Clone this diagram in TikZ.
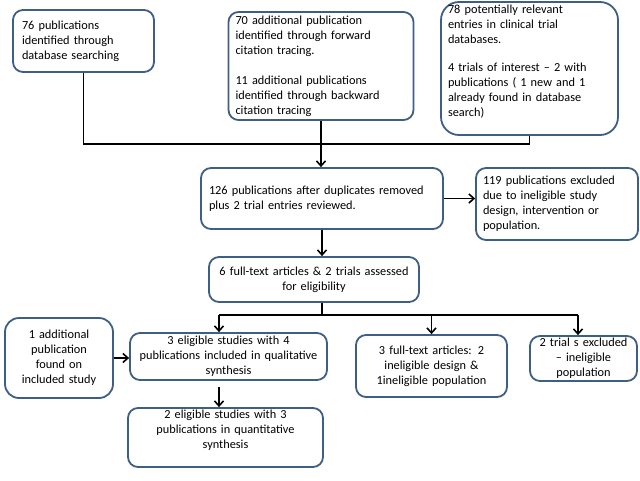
\documentclass[tikz,border=0pt]{standalone}
\usepackage{fontspec}
\setmainfont{Carlito}
\usetikzlibrary{arrows.meta,calc}
\definecolor{boxblue}{RGB}{62,95,133}
\tikzset{
  box/.style={draw=boxblue, line width=1.8pt, rounded corners=10pt, fill=white,
    inner sep=0pt, font=\fontsize{12.3}{15}\selectfont},
  leftbox/.style={box, align=left},
  midbox/.style={box, align=center},
  conn/.style={draw=black, line width=1.6pt},
  arr/.style={conn, -{Straight Barb[length=5pt,width=9pt,line width=1.6pt]}},
}
\begin{document}
\begin{tikzpicture}[x=1pt,y=-1pt]
\useasboundingbox (0,0) rectangle (640,480);
% boxes
\node[leftbox, minimum width=141, minimum height=62, text width=123] (A) at (83.5,41)
  {76 publications\\identified through\\database searching};
\node[leftbox, minimum width=185, minimum height=108, text width=171] (B) at (321,66)
  {70 additional publication\\identified through forward\\citation tracing.\\[15pt]11 additional publications\\identified through backward\\citation tracing};
\node[leftbox, rounded corners=18pt, minimum width=177, minimum height=133, text width=163] (C) at (529.5,68.5)
  {78 potentially relevant\\entries in clinical trial\\databases.\\[13pt]4 trials of interest -- 2 with\\publications ( 1 new and 1\\already found in database\\search)\\[1pt]\mbox{}};
\node[leftbox, minimum width=242, minimum height=61, text width=226] (D) at (322,198.5)
  {126 publications after duplicates removed\\plus 2 trial entries reviewed.};
\node[leftbox, minimum width=162, minimum height=72, text width=148] (E) at (557,204)
  {119 publications excluded\\due to ineligible  study\\design, intervention or\\population.};
\node[midbox, minimum width=210, minimum height=45, text width=200] (F) at (314,279.5)
  {6 full-text articles \& 2 trials assessed\\for eligibility};
\node[midbox, minimum width=197, minimum height=47, text width=190] (G) at (228.5,356.5)
  {3 eligible studies with 4\\publications included in qualitative\\synthesis};
\node[midbox, rounded corners=14pt, minimum width=108, minimum height=80, text width=100] (J) at (59,358)
  {1 additional\\publication\\found on\\included study};
\node[midbox, minimum width=195, minimum height=59, text width=188] (K) at (225.5,437.5)
  {2 eligible studies with 3\\publications in quantitative\\synthesis\\[2pt]\mbox{}};
\node[midbox, minimum width=151, minimum height=62, text width=140] (H) at (431.5,366)
  {3 full-text articles:  2\\ineligible  design \&\\1ineligible population};
\node[midbox, minimum width=107, minimum height=45, text width=100] (I) at (583.5,358.5)
  {2  trial s excluded\\-- ineligible\\population};
% junctions
\coordinate (j1) at (321,144);
\coordinate (j2) at (322,315);
\coordinate (xg) at (219,0);
\coordinate (xi) at (578,0);
% connectors
\draw[conn] (A.south) -- (A.south |- j1) -- (C.south |- j1) -- (C.south);
\draw[conn] (B.south) -- (j1);
\draw[arr] (j1) -- (D.north -| j1);
\draw[arr] (D.east) -- (E.west |- D.east);
\draw[arr] (D.south) -- (F.north -| D.south);
\draw[conn] (F.south -| j2) -- (j2);
\draw[conn] (xg |- j2) -- (xi |- j2);
\draw[arr] (xg |- j2) -- (G.north -| xg);
\draw[arr] (H.north |- j2) -- (H.north);
\draw[arr] (xi |- j2) -- (I.north -| xi);
\draw[arr] (J.east) -- (G.west |- J.east);
\draw[arr] ($(G.south -| xg)+(0,6)$) -- (K.north -| xg);
\end{tikzpicture}
\end{document}
